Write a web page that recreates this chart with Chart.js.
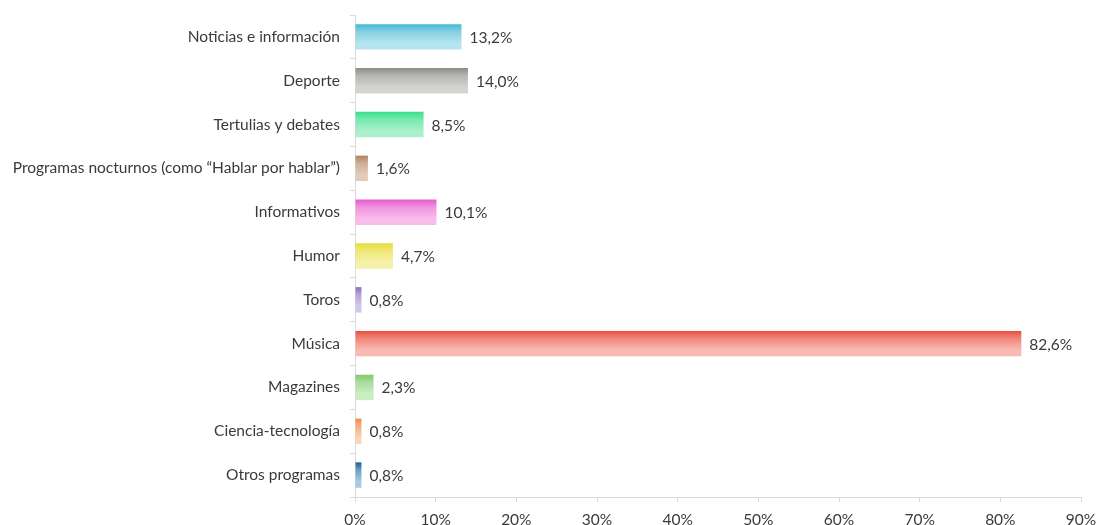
<!DOCTYPE html>
<html>
<head>
<meta charset="utf-8">
<script src="https://cdn.jsdelivr.net/npm/chart.js@4"></script>
<style>
  html, body { margin: 0; padding: 0; background: #ffffff; }
  #wrap { width: 1097px; height: 525px; position: relative; }
</style>
</head>
<body>
<div id="wrap"><canvas id="c" width="1097" height="525"></canvas></div>
<script>
const categories = [
  'Noticias e información',
  'Deporte',
  'Tertulias y debates',
  'Programas nocturnos (como \u201cHablar por hablar\u201d)',
  'Informativos',
  'Humor',
  'Toros',
  'Música',
  'Magazines',
  'Ciencia-tecnología',
  'Otros programas'
];
const values = [13.2, 14.0, 8.5, 1.6, 10.1, 4.7, 0.8, 82.6, 2.3, 0.8, 0.8];
const topColors = ['#45b9d4', '#8e8e89', '#3ddf8c', '#b08463', '#e65ccf', '#e6de3c', '#8f6fbf', '#e8503f', '#7fca6e', '#f08c4c', '#1f5f8f'];
const midColors = ['#86d0e2', '#b5b5b1', '#78e9b0', '#cfae98', '#f093df', '#efe877', '#b8a3da', '#f2877b', '#a9dd9c', '#f6b083', '#6c9fc4'];
const bottomColors = ['#b4e4ef', '#d3d3cf', '#a9f0cb', '#e2cbbb', '#f7bce9', '#f7f0aa', '#d4c6ea', '#f8bab2', '#cbedc4', '#f9d3b6', '#a8cbe2'];
const tickValues = [0, 10, 20, 30, 40, 50, 60, 70, 80, 90];

const textColor = '#3a3a3a';
const fontFamily = 'Lato, "Open Sans", sans-serif';
const fontSize = 15.5;

// vertical gradient per bar: darker at the top edge, lighter towards the bottom
function barFill(ctx) {
  const chart = ctx.chart;
  const i = ctx.dataIndex;
  const yScale = chart.scales && chart.scales.y;
  if (!yScale || !chart.chartArea || i === undefined) return topColors[i || 0];
  const meta = chart.getDatasetMeta(0);
  const el = meta.data[i];
  const center = yScale.getPixelForValue(i);
  const half = (el && el.height ? el.height : 25) / 2;
  const g = chart.ctx.createLinearGradient(0, center - half, 0, center + half);
  g.addColorStop(0, topColors[i]);
  g.addColorStop(0.3, midColors[i]);
  g.addColorStop(0.75, bottomColors[i]);
  g.addColorStop(1, bottomColors[i]);
  return g;
}

// value labels written just past the end of each bar
const valueLabels = {
  id: 'valueLabels',
  afterDatasetsDraw(chart) {
    const c = chart.ctx;
    const meta = chart.getDatasetMeta(0);
    c.save();
    c.font = fontSize + 'px ' + fontFamily;
    c.fillStyle = textColor;
    c.textAlign = 'left';
    c.textBaseline = 'middle';
    meta.data.forEach((bar, i) => {
      const txt = values[i].toFixed(1).replace('.', ',') + '%';
      c.fillText(txt, bar.x + 8, bar.y + 1);
    });
    c.restore();
  }
};

new Chart(document.getElementById('c'), {
  type: 'bar',
  data: {
    labels: categories,
    datasets: [{
      data: values,
      backgroundColor: barFill,
      borderWidth: 0,
      categoryPercentage: 1.0,
      barPercentage: 0.58
    }]
  },
  options: {
    indexAxis: 'y',
    responsive: false,
    animation: false,
    events: [],
    layout: { padding: { top: 15, right: 16, left: 0, bottom: 0 } },
    plugins: {
      legend: { display: false },
      tooltip: { enabled: false }
    },
    scales: {
      x: {
        min: 0,
        max: 90,
        afterBuildTicks(scale) { scale.ticks = tickValues.map(v => ({ value: v })); },
        afterFit(scale) {
          scale.height = 28;
          scale.paddingLeft = 0;
          scale.paddingRight = 0;
        },
        grid: {
          drawOnChartArea: false,
          drawTicks: true,
          tickLength: 5,
          color: '#d9d9d9'
        },
        border: { color: '#d9d9d9' },
        ticks: {
          color: textColor,
          font: { family: fontFamily, size: fontSize },
          padding: 9,
          maxRotation: 0,
          callback: v => v + '%'
        }
      },
      y: {
        afterFit(scale) {
          scale.width = 355;
          scale.paddingTop = 0;
          scale.paddingBottom = 0;
        },
        grid: {
          drawOnChartArea: false,
          drawTicks: true,
          tickLength: 5,
          offset: true,
          color: '#d9d9d9'
        },
        border: { color: '#d9d9d9' },
        ticks: {
          color: textColor,
          font: { family: fontFamily, size: fontSize },
          padding: 10,
          autoSkip: false
        }
      }
    }
  },
  plugins: [valueLabels]
});
</script>
</body>
</html>
